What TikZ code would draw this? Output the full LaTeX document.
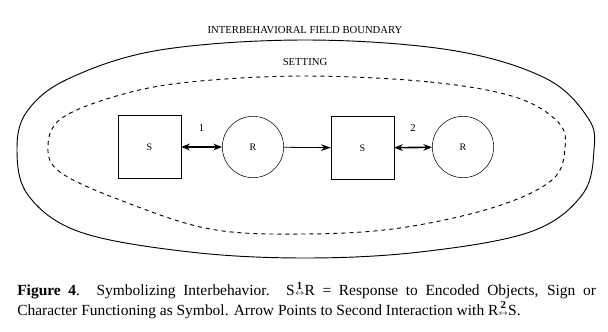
\documentclass[tikz,border=0pt]{standalone}
\usepackage{amsmath}
\usepackage{fontspec}
\setmainfont{Liberation Serif}
\usetikzlibrary{arrows.meta,positioning}
\newcommand\linkarrow[1]{\ensuremath{\mathrel{\overset{\scriptstyle\mathbf{#1}}{\scriptscriptstyle\leftrightarrow}}}}

\begin{document}
\begin{tikzpicture}[x=0.75pt,y=-0.75pt,
    stim/.style={draw,minimum size=47pt,inner sep=0pt,font=\fontsize{7.5}{8}\selectfont},
    resp/.style={draw,circle,minimum size=46pt,inner sep=0pt,font=\fontsize{7.5}{8}\selectfont},
    lbl/.style={font=\fontsize{8}{9}\selectfont},
    link/.style={line width=1.2pt,{Stealth[length=6.5pt,width=5pt]}-{Stealth[length=6.5pt,width=5pt]}},
    fwd/.style={line width=0.6pt,-{Stealth[length=7.5pt,width=5pt]}}]
  \useasboundingbox (0,0) rectangle (608,332);
  % field boundary and setting
  \draw[line width=0.7pt] plot[smooth cycle,tension=0.6] coordinates {
    (305,40) (450,50) (545,78) (588,118) (594,150) (582,195) (530,232)
    (420,252) (305,258) (190,252) (80,232) (28,195) (17,148) (28,110) (70,78) (160,50)};
  \draw[dashed,line width=0.7pt] plot[smooth cycle,tension=0.6] coordinates {
    (305,76) (430,82) (515,97) (558,122) (565,148) (552,180) (495,207)
    (400,228) (305,234) (210,229) (120,200) (60,172) (48,146) (62,118) (120,95) (190,82)};
  \node[lbl] (fieldlbl) at (305,30) {INTERBEHAVIORAL FIELD BOUNDARY};
  \node[lbl] (settinglbl) at (305,62) {SETTING};
  % interactions
  \node[stim] (s1) at (149.5,147) {S};
  \node[resp] (r1) at (253,147) {R};
  \node[stim] (s2) at (362.5,148) {S};
  \node[resp] (r2) at (463,147) {R};
  \draw[link] (s1) -- (r1) node[midway,above=8pt,lbl] (one) {1};
  \draw[fwd] (r1) -- (s2);
  \draw[link] (s2) -- (r2) node[midway,above=8pt,lbl] (two) {2};
  % caption
  \node[anchor=north west,inner sep=0pt,text width=434pt,align=justify,
        font=\fontsize{11.6}{12.75}\selectfont] (caption) at (17,280)
    {\textbf{Figure 4}. Symbolizing Interbehavior. S\linkarrow{1}R = Response to Encoded Objects, Sign or\linebreak Character Functioning as Symbol. Arrow Points to Second Interaction with R\linkarrow{2}S.};
\end{tikzpicture}
\end{document}
